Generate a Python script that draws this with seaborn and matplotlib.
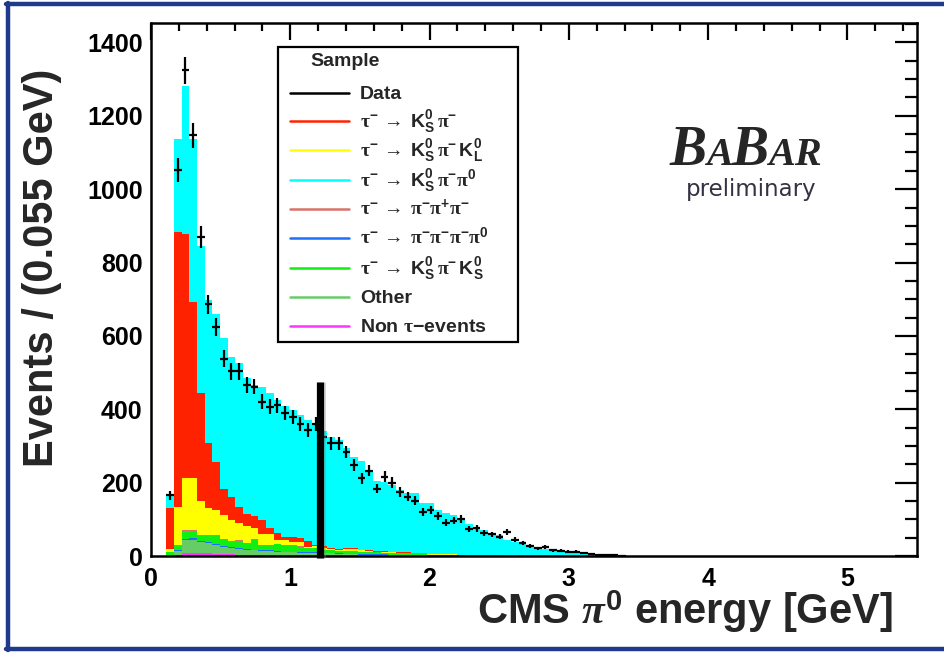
import numpy as np
import pandas as pd
import matplotlib
matplotlib.use("Agg")
import matplotlib.pyplot as plt
import seaborn as sns
from matplotlib.patches import Rectangle
from matplotlib.lines import Line2D

# ---------------- data (bins of 0.055 GeV, starting at bin index 2 -> 0.110 GeV) -------------
bin_width = 0.055
first_bin = 2
n_bins = 60

data_counts = [165, 1053, 1324, 1147, 870, 686, 625, 538, 503, 503,
               467, 462, 420, 407, 411, 390, 379, 361, 343, 361,
               325, 307, 307, 284, 248, 212, 232, 184, 216, 200,
               175, 162, 150, 119, 125, 109, 91, 96, 101, 73,
               75, 63, 59, 53, 66, 44, 35, 28, 21, 24,
               16, 14, 12, 12, 8, 6, 4, 3, 2, 1]

kspi_pi0 = [36, 254, 401, 443, 402, 392, 402, 409, 381, 391,
            370, 357, 363, 370, 363, 357, 347, 337, 330, 330,
            315, 303, 295, 274, 247, 241, 212, 191, 188, 182,
            170, 161, 162, 135, 139, 120, 111, 107, 94, 84,
            72, 68, 59, 54, 44, 39, 33, 30, 25, 18,
            16, 14, 12, 9, 9, 5, 5, 4, 3, 2]

kspi = [110, 748, 667, 481, 293, 177, 132, 72, 64, 45,
        32, 34, 39, 16, 18, 9, 12, 9, 17, 5,
        5, 4, 4, 3, 3, 2, 2, 2, 2, 1,
        1, 1, 1, 1, 0, 0, 0, 0, 0, 0,
        0, 0, 0, 0, 0, 0, 0, 0, 0, 0,
        0, 0, 0, 0, 0, 0, 0, 0, 0, 0]

kspi_kl = [10, 103, 142, 142, 92, 72, 67, 66, 58, 46,
           47, 29, 28, 30, 11, 13, 10, 13, 2, 5,
           4, 3, 2, 5, 6, 3, 3, 2, 2, 2,
           2, 2, 1, 1, 1, 1, 1, 1, 1, 1,
           1, 1, 1, 1, 0, 0, 0, 0, 0, 0,
           0, 0, 0, 0, 0, 0, 0, 0, 0, 0]

three_pi = [0, 1, 1, 1, 1, 1, 1, 1, 1, 1,
            1, 1, 1, 1, 1, 1, 1, 1, 1, 0,
            0, 0, 0, 0, 0, 0, 0, 0, 0, 0,
            0, 0, 0, 0, 0, 0, 0, 0, 0, 0,
            0, 0, 0, 0, 0, 0, 0, 0, 0, 0,
            0, 0, 0, 0, 0, 0, 0, 0, 0, 0]

four_pi = [0, 1, 2, 4, 4, 3, 3, 3, 3, 2,
           2, 2, 2, 2, 2, 2, 2, 2, 2, 2,
           2, 1, 1, 1, 1, 1, 1, 1, 1, 1,
           1, 1, 1, 1, 1, 1, 1, 1, 1, 0,
           0, 0, 0, 0, 0, 0, 0, 0, 0, 0,
           0, 0, 0, 0, 0, 0, 0, 0, 0, 0]

kspi_ks = [6, 15, 24, 21, 15, 19, 23, 17, 14, 21,
           15, 28, 14, 13, 19, 18, 16, 14, 12, 11,
           8, 7, 7, 7, 8, 7, 6, 5, 4, 4,
           3, 3, 3, 3, 2, 2, 2, 2, 1, 1,
           1, 1, 1, 1, 0, 0, 0, 0, 0, 0,
           0, 0, 0, 0, 0, 0, 0, 0, 0, 0]

other = [3, 10, 35, 35, 30, 28, 25, 20, 17, 15,
         13, 12, 11, 10, 9, 8, 8, 7, 6, 6,
         5, 5, 4, 4, 4, 3, 3, 3, 3, 2,
         2, 2, 2, 2, 1, 1, 1, 1, 1, 1,
         1, 1, 1, 1, 0, 0, 0, 0, 0, 0,
         0, 0, 0, 0, 0, 0, 0, 0, 0, 0]

non_tau = [1, 4, 8, 9, 8, 7, 6, 5, 5, 4,
           4, 3, 3, 3, 2, 2, 2, 2, 2, 2,
           2, 2, 2, 1, 1, 1, 1, 1, 1, 1,
           1, 1, 1, 1, 0, 0, 0, 0, 0, 0,
           0, 0, 0, 0, 0, 0, 0, 0, 0, 0,
           0, 0, 0, 0, 0, 0, 0, 0, 0, 0]

T = r"\mathsf{\tau}^{-}\,\rightarrow\ "
P = r"\mathsf{\pi}"
legend_labels = [
    "Data",
    r"$" + T + r"\mathbf{K^{0}_{S}}\," + P + r"^{-}$",
    r"$" + T + r"\mathbf{K^{0}_{S}}\," + P + r"^{-}\,\mathbf{K^{0}_{L}}$",
    r"$" + T + r"\mathbf{K^{0}_{S}}\," + P + r"^{-}" + P + r"^{0}$",
    r"$" + T + P + r"^{-}" + P + r"^{+}" + P + r"^{-}$",
    r"$" + T + P + r"^{-}" + P + r"^{-}" + P + r"^{-}" + P + r"^{0}$",
    r"$" + T + r"\mathbf{K^{0}_{S}}\," + P + r"^{-}\,\mathbf{K^{0}_{S}}$",
    "Other",
    r"Non $\mathsf{\tau}$$-$events",
]
x_ticks = [0, 1, 2, 3, 4, 5]
y_ticks = [0, 200, 400, 600, 800, 1000, 1200, 1400]

# ---------------- style ----------------
sns.set_style("white")
plt.rcParams["font.family"] = ["Liberation Sans", "DejaVu Sans"]
plt.rcParams["font.weight"] = "bold"
plt.rcParams["mathtext.fontset"] = "custom"
plt.rcParams["mathtext.rm"] = "Liberation Sans:bold"
plt.rcParams["mathtext.bf"] = "Liberation Sans:bold"
plt.rcParams["mathtext.it"] = "Liberation Serif:italic"
plt.rcParams["mathtext.sf"] = "Liberation Serif"

colors = {
    "data": "black",
    "kspi": "#ff2200",
    "kspi_kl": "#ffff00",
    "kspi_pi0": "#00ffff",
    "three_pi": "#d9736a",
    "four_pi": "#1f6fff",
    "kspi_ks": "#11ee11",
    "other": "#66cc66",
    "non_tau": "#ff33ff",
}

centers = (first_bin + np.arange(n_bins) + 0.5) * bin_width

components = {
    "kspi_pi0": kspi_pi0,
    "kspi": kspi,
    "kspi_kl": kspi_kl,
    "three_pi": three_pi,
    "kspi_ks": kspi_ks,
    "four_pi": four_pi,
    "other": other,
    "non_tau": non_tau,
}
rows = []
for name, vals in components.items():
    for c, v in zip(centers, vals):
        rows.append({"E": float(c), "N": float(v), "comp": name})
df = pd.DataFrame(rows)
order = list(components.keys())  # first = top of the stack

W, H = 944, 653
fig = plt.figure(figsize=(W / 100, H / 100), dpi=100)
ax_l, ax_r, ax_t, ax_b = 151, 917, 23, 556
ax = fig.add_axes([ax_l / W, 1 - ax_b / H, (ax_r - ax_l) / W, (ax_b - ax_t) / H])

sns.histplot(data=df, x="E", weights="N", hue="comp", hue_order=order,
             palette={k: colors[k] for k in order}, multiple="stack",
             binwidth=bin_width,
             binrange=(first_bin * bin_width, (first_bin + n_bins) * bin_width),
             element="step", fill=True, alpha=1, linewidth=0,
             legend=False, ax=ax)

d = np.array(data_counts, dtype=float)
ax.errorbar(centers, d, yerr=np.sqrt(d), xerr=bin_width / 2, fmt="none",
            ecolor="black", elinewidth=1.6, capsize=0, zorder=5)

# cut marker
ax.plot([1.222, 1.222], [-6, 475], color="#888888", lw=6.5, alpha=0.35,
        solid_capstyle="butt", clip_on=False, zorder=6)
ax.plot([1.21, 1.21], [-6, 475], color="black", lw=5.2,
        solid_capstyle="butt", clip_on=False, zorder=7)

ax.set_axisbelow(False)
ax.set_xlim(0, 5.5)
ax.set_ylim(0, 1453)
ax.set_xticks(x_ticks)
ax.set_yticks(y_ticks)
ax.set_xticks(np.arange(0, 5.5, 0.2), minor=True)
ax.set_yticks(np.arange(0, 1451, 50), minor=True)
ax.tick_params(axis="both", which="both", direction="in", top=True, right=True,
               width=1.6, colors="black")
ax.tick_params(axis="y", which="major", length=16, pad=6, labelsize=18)
ax.tick_params(axis="y", which="minor", length=8.5)
ax.tick_params(axis="x", which="major", length=12, pad=8, labelsize=18)
ax.tick_params(axis="x", which="minor", length=6)
for lab in ax.get_xticklabels() + ax.get_yticklabels():
    lab.set_fontweight("bold")
for s in ax.spines.values():
    s.set_linewidth(1.8)
    s.set_color("black")
ax.set_xlabel("")
ax.set_ylabel("")

fig.text(42 / W, 1 - 268 / H, "Events / (0.055 GeV)", rotation=90,
         ha="center", va="center", fontsize=30, fontweight="bold")
fig.text(893 / W, 1 - 612 / H, r"CMS $\pi^{\mathbf{0}}$ energy [GeV]",
         ha="right", va="center", fontsize=30, fontweight="bold")

# ---------------- legend box ----------------
def axx(px):
    return (px - ax_l) / (ax_r - ax_l)

def axy(py):
    return (ax_b - py) / (ax_b - ax_t)

ax.add_patch(Rectangle((axx(278), axy(342)), axx(518) - axx(278), axy(47) - axy(342),
                       transform=ax.transAxes, facecolor="white", edgecolor="black",
                       linewidth=1.6, zorder=10))
ax.text(axx(310), axy(62), "Sample", transform=ax.transAxes, ha="left", va="center",
        fontsize=14, fontweight="bold", zorder=11)
entry_y = [93.3, 120.7, 150, 180, 209, 238, 267.7, 296.7, 326]
entry_colors = [colors[k] for k in ["data", "kspi", "kspi_kl", "kspi_pi0", "three_pi",
                                     "four_pi", "kspi_ks", "other", "non_tau"]]
for yy, lab, col in zip(entry_y, legend_labels, entry_colors):
    ax.plot([axx(290), axx(349)], [axy(yy), axy(yy)], transform=ax.transAxes,
            color=col, lw=1.8, zorder=11, clip_on=False)
    ax.text(axx(360), axy(yy + 6), lab, transform=ax.transAxes, ha="left",
            va="baseline", fontsize=14, fontweight="bold", zorder=11)

# ---------------- BaBar logo ----------------
renderer = fig.canvas.get_renderer()
x_px = 670
for piece, size in [("B", 40), ("A", 29), ("B", 40), ("AR", 29)]:
    t = fig.text(x_px / W, 1 - 165 / H, piece, fontsize=size, fontweight="bold",
                 fontstyle="italic", family="Liberation Serif", va="baseline")
    x_px = t.get_window_extent(renderer).x1 - 1
fig.text(686 / W, 1 - 196 / H, "preliminary", fontsize=16.5, fontweight="normal",
         family="DejaVu Sans", color="#333344", va="baseline")

# ---------------- slide frame (top, left, bottom) ----------------
frame_color = "#1f3a8c"
for xs, ys in [((6, 944), (4, 4)), ((6, 944), (649, 649)), ((8, 8), (3, 650))]:
    fig.add_artist(Line2D([x / W for x in xs], [1 - y / H for y in ys],
                          transform=fig.transFigure, color=frame_color, lw=3.2))

fig.savefig("out.png", dpi=100)
